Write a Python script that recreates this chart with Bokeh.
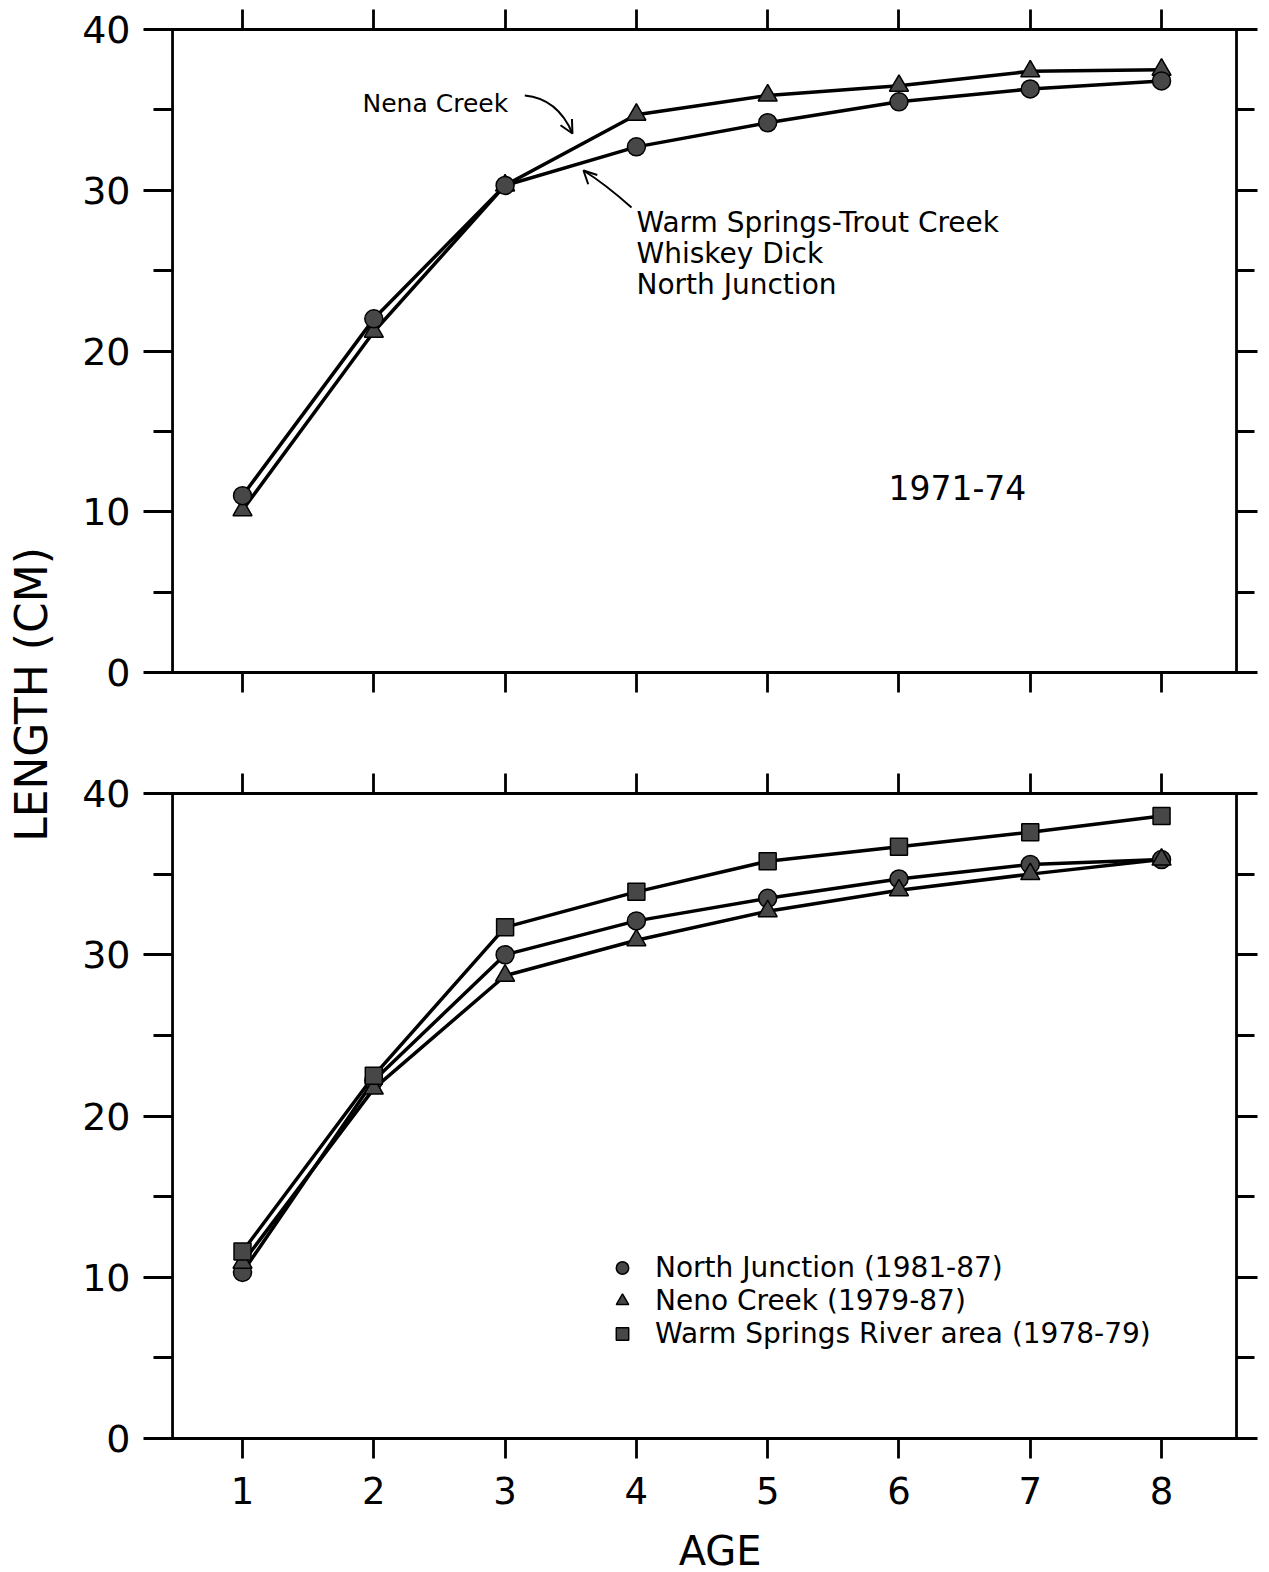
import math
from bokeh.plotting import figure
from bokeh.layouts import row, column
from bokeh.models import (Range1d, FixedTicker, SingleIntervalTicker, LinearAxis, Span,
                          Label, Legend, LegendItem, Arrow, OpenHead)
from bokeh.embed import file_html
from bokeh.resources import INLINE

FONT = "DejaVu Sans"

# ---------------- data ----------------
ages = [1, 2, 3, 4, 5, 6, 7, 8]
age_tick_labels = ["1", "2", "3", "4", "5", "6", "7", "8"]
length_ticks = [0, 10, 20, 30, 40]

# Panel 1 (1971-74)
warm_trout_whiskey_north = [11.0, 22.0, 30.3, 32.7, 34.2, 35.5, 36.3, 36.8]
nena_creek_7174 = [10.1, 21.2, 30.3, 34.7, 35.9, 36.5, 37.4, 37.5]

# Panel 2
north_junction_8187 = [10.3, 22.2, 30.0, 32.1, 33.5, 34.7, 35.6, 35.9]
neno_creek_7987 = [10.9, 21.7, 28.7, 30.9, 32.7, 34.0, 35.0, 35.9]
warm_springs_7879 = [11.6, 22.5, 31.7, 33.9, 35.8, 36.7, 37.6, 38.6]

legend_labels = ["North Junction (1981-87)", "Neno Creek (1979-87)",
                 "Warm Springs River area (1978-79)"]

X_START, X_END = 0.322, 8.708
LEFT_LINE, RIGHT_LINE = 0.467, 8.571
LW = 2.8
MARK_FILL = "#474747"


def blank(ticks):
    return {t: "" for t in ticks}


def style_panel(p, show_labels):
    p.outline_line_color = None
    p.xgrid.visible = False
    p.ygrid.visible = False
    p.background_fill_color = "white"
    p.border_fill_color = "white"

    xa = p.xaxis[0]
    xa.ticker = FixedTicker(ticks=ages, minor_ticks=[])
    xa.axis_line_width = LW
    xa.major_tick_line_width = LW
    xa.major_tick_in = 0
    xa.major_tick_out = 20
    if show_labels:
        xa.major_label_overrides = {a: t for a, t in zip(ages, age_tick_labels)}
        xa.major_label_text_font = FONT
        xa.major_label_text_font_size = "37px"
        xa.major_label_text_color = "black"
        xa.major_label_standoff = 18
    else:
        xa.major_label_overrides = blank(ages)
        xa.major_label_text_font_size = "1px"
        xa.major_label_standoff = 0

    top = LinearAxis(ticker=FixedTicker(ticks=ages, minor_ticks=[]),
                     axis_line_width=LW, major_tick_line_width=LW,
                     major_tick_in=0, major_tick_out=20,
                     major_label_overrides=blank(ages),
                     major_label_text_font_size="1px", major_label_standoff=0)
    p.add_layout(top, "above")

    ya = p.yaxis[0]
    ya.ticker = SingleIntervalTicker(interval=10, num_minor_ticks=2)
    ya.axis_line_color = None
    ya.major_tick_line_width = LW
    ya.minor_tick_line_width = LW
    ya.major_tick_in = 19
    ya.major_tick_out = 10
    ya.minor_tick_in = 19
    ya.minor_tick_out = 0
    ya.major_label_text_font = FONT
    ya.major_label_text_font_size = "38px"
    ya.major_label_text_color = "black"
    ya.major_label_standoff = 13

    right = LinearAxis(ticker=SingleIntervalTicker(interval=10, num_minor_ticks=2),
                       axis_line_color=None, major_tick_line_width=LW,
                       minor_tick_line_width=LW, major_tick_in=18, major_tick_out=3,
                       minor_tick_in=18, minor_tick_out=0,
                       major_label_overrides=blank(length_ticks),
                       major_label_text_font_size="1px", major_label_standoff=0)
    p.add_layout(right, "right")

    p.add_layout(Span(location=LEFT_LINE, dimension="height", line_color="black", line_width=LW))
    p.add_layout(Span(location=RIGHT_LINE, dimension="height", line_color="black", line_width=LW))


def text_only_figure(w, h):
    f = figure(width=w, height=h, x_range=Range1d(0, w), y_range=Range1d(h, 0),
               min_border=0, output_backend="svg", toolbar_location=None,
               x_axis_location=None, y_axis_location=None)
    f.outline_line_color = None
    f.xgrid.visible = False
    f.ygrid.visible = False
    return f


# ---------------- top panel ----------------
p1 = figure(x_range=Range1d(X_START, X_END), y_range=Range1d(0, 40),
            frame_width=1101, frame_height=643,
            min_border_left=85, min_border_right=7, min_border_top=29, min_border_bottom=63,
            output_backend="svg", toolbar_location=None)
style_panel(p1, False)

p1.line(ages, nena_creek_7174, line_color="black", line_width=3.5)
p1.line(ages, warm_trout_whiskey_north, line_color="black", line_width=3.5)
p1.scatter(ages, nena_creek_7174, marker="triangle", size=19,
           fill_color=MARK_FILL, line_color="black", line_width=1.5)
p1.scatter(ages, warm_trout_whiskey_north, marker="circle", size=18,
           fill_color=MARK_FILL, line_color="black", line_width=1.5)

p1.add_layout(Label(x=1.914, y=35.40, text="Nena Creek", text_font=FONT,
                    text_font_size="25px", text_baseline="alphabetic", text_color="black"))
for txt, yy in zip(["Warm Springs-Trout Creek", "Whiskey Dick", "North Junction"],
                   [27.99, 26.07, 24.14]):
    p1.add_layout(Label(x=4.001, y=yy, text=txt, text_font=FONT,
                        text_font_size="28px", text_baseline="alphabetic", text_color="black"))
p1.add_layout(Label(x=5.92, y=11.51, text="1971-74", text_font=FONT,
                    text_font_size="33px", text_baseline="alphabetic", text_color="black"))

# curved pointer arrows
p1.quadratic(x0=3.150, y0=35.89, x1=3.513, y1=33.53, cx=3.400, cy=35.70,
             line_color="black", line_width=2)
p1.add_layout(Arrow(end=OpenHead(size=13, line_width=2), x_start=3.503, y_start=33.68,
                    x_end=3.513, y_end=33.53, line_width=2))
p1.quadratic(x0=3.963, y0=28.93, x1=3.597, y1=31.23, cx=3.760, cy=30.40,
             line_color="black", line_width=2)
p1.add_layout(Arrow(end=OpenHead(size=13, line_width=2), x_start=3.607, y_start=31.15,
                    x_end=3.597, y_end=31.23, line_width=2))

# ---------------- bottom panel ----------------
p2 = figure(x_range=Range1d(X_START, X_END), y_range=Range1d(0, 40),
            frame_width=1101, frame_height=645,
            min_border_left=85, min_border_right=7, min_border_top=58, min_border_bottom=82,
            output_backend="svg", toolbar_location=None)
style_panel(p2, True)

p2.line(ages, north_junction_8187, line_color="black", line_width=3.5)
p2.line(ages, neno_creek_7987, line_color="black", line_width=3.5)
p2.line(ages, warm_springs_7879, line_color="black", line_width=3.5)
r_c = p2.scatter(ages, north_junction_8187, marker="circle", size=18,
                 fill_color=MARK_FILL, line_color="black", line_width=1.5)
r_t = p2.scatter(ages, neno_creek_7987, marker="triangle", size=19,
                 fill_color=MARK_FILL, line_color="black", line_width=1.5)
r_s = p2.scatter(ages, warm_springs_7879, marker="square", size=17,
                 fill_color=MARK_FILL, line_color="black", line_width=1.5)

legend = Legend(items=[LegendItem(label=legend_labels[0], renderers=[r_c]),
                       LegendItem(label=legend_labels[1], renderers=[r_t]),
                       LegendItem(label=legend_labels[2], renderers=[r_s])],
                location=(451, 88), padding=0, margin=0, spacing=0,
                glyph_width=36, glyph_height=31, label_height=31, label_standoff=15,
                label_text_font=FONT, label_text_font_size="28px",
                label_text_baseline="middle", label_text_color="black",
                background_fill_alpha=0, border_line_color=None)
p2.add_layout(legend)

# ---------------- x-axis title strip ----------------
age_fig = text_only_figure(1193, 50)
age_fig.add_layout(Label(x=614, y=30, text="AGE", text_font=FONT, text_font_size="40px",
                         text_align="center", text_baseline="middle", text_color="black"))

# ---------------- shared y label ----------------
lab = text_only_figure(68, 1568)
lab.add_layout(Label(x=31, y=694, text="LENGTH (CM)", angle=math.pi / 2,
                     text_align="center", text_baseline="middle", text_color="black",
                     text_font=FONT, text_font_size="44px"))

layout = row(lab, column(p1, p2, age_fig))

open("out.html", "w").write(file_html(layout, INLINE))
